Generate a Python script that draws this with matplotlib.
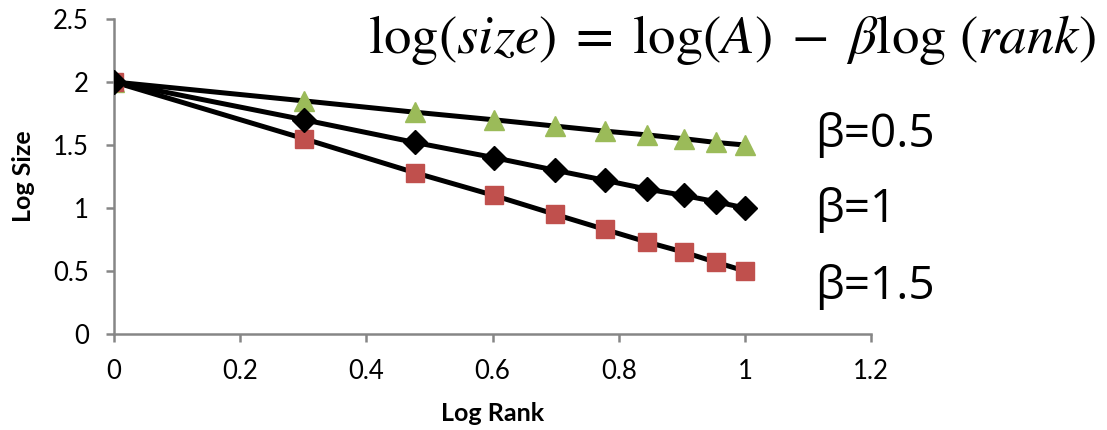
import matplotlib.pyplot as plt

# log10 del rango 1..10 y log del tamaño para cada beta
log_rank = [0.0, 0.301, 0.477, 0.602, 0.699, 0.778, 0.845, 0.903, 0.954, 1.0]
size_b05 = [2.0, 1.85, 1.76, 1.70, 1.65, 1.61, 1.58, 1.55, 1.52, 1.50]
size_b10 = [2.0, 1.70, 1.52, 1.40, 1.30, 1.22, 1.15, 1.10, 1.05, 1.00]
size_b15 = [2.0, 1.55, 1.28, 1.10, 0.95, 0.83, 0.73, 0.65, 0.57, 0.50]
beta_labels = ["β=0.5", "β=1", "β=1.5"]

x_ticks = [0, 0.2, 0.4, 0.6, 0.8, 1, 1.2]
y_ticks = [0, 0.5, 1, 1.5, 2, 2.5]

GREEN = "#9BBB59"
RED = "#C0504D"
GRAY = "#868686"

plt.rcParams["font.family"] = ["Lato", "DejaVu Sans"]
plt.rcParams["mathtext.fontset"] = "stix"

fig = plt.figure(figsize=(11.07, 4.30), dpi=100)
ax = fig.add_axes([0.103, 0.223, 0.684, 0.733])

ax.plot(log_rank, size_b05, color="black", lw=3.6, marker="^", ms=15,
        mfc=GREEN, mec=GREEN, zorder=3)
ax.plot(log_rank, size_b15, color="black", lw=3.6, marker="s", ms=13,
        mfc=RED, mec=RED, zorder=4)
ax.plot(log_rank, size_b10, color="black", lw=3.6, marker="D", ms=12,
        mfc="black", mec="black", zorder=5)

ax.set_xlim(0, 1.2)
ax.set_ylim(0, 2.5)
ax.set_xticks(x_ticks)
ax.set_xticklabels([f"{v:g}" for v in x_ticks])
ax.set_yticks(y_ticks)
ax.set_yticklabels([f"{v:g}" for v in y_ticks])

for lado in ["top", "right"]:
    ax.spines[lado].set_visible(False)
for lado in ["left", "bottom"]:
    ax.spines[lado].set_color(GRAY)
    ax.spines[lado].set_linewidth(1.8)
    ax.spines[lado].set_clip_on(False)

ax.tick_params(axis="both", direction="out", length=6, width=1.8,
               color=GRAY, labelsize=18.5, pad=12)

ax.set_xlabel("Log Rank", fontsize=18, fontweight="bold")
ax.set_ylabel("Log Size", fontsize=18, fontweight="bold")
ax.xaxis.set_label_coords(0.5, -0.215)
ax.yaxis.set_label_coords(-0.104, 0.5)

# Etiquetas de beta a la derecha de cada serie
for etiqueta, y_px in zip(beta_labels, [135, 210, 287]):
    fig.text(815 / 1107, 1 - y_px / 430, etiqueta, fontsize=33,
             va="center", ha="left", family=["Open Sans", "DejaVu Sans"])

fig.text(368 / 1107, 1 - 40 / 430,
         r"$\log(size)\;=\;\log(A)\;-\;\beta\log\,(rank)$",
         fontsize=39.5, va="center", ha="left")

fig.savefig("out.png", dpi=100)
